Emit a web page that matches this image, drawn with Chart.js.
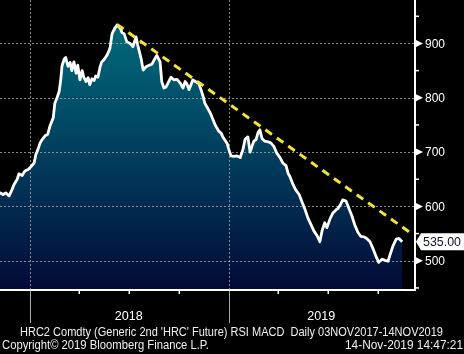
<!DOCTYPE html>
<html><head><meta charset="utf-8">
<script src="https://cdn.jsdelivr.net/npm/chart.js@4.4.0/dist/chart.umd.min.js"></script>
<style>html,body{margin:0;padding:0;background:#000;overflow:hidden}canvas{display:block}</style>
</head><body>
<canvas id="c" width="464" height="354"></canvas>
<script>
// ---- data ----
const startDate = '2017-11-03'; // day 0 of dayOffsets
const dayOffsets = [0,9,14,20,25,29,35,38,44,49,
55,60,66,69,73,77,80,86,91,95,
101,104,108,112,115,117,121,124,128,132,
135,139,143,146,150,154,157,161,165,168,
172,176,179,183,187,190,194,200,205,209,
214,218,224,227,231,236,242,247,253,256,
262,266,271,277,282,288,291,297,300,304,
308,311,317,322,328,334,339,343,346,350,
354,357,363,368,372,376,379,383,389,394,
398,401,405,409,412,416,420,423,427,433,
438,444,449,453,458,462,466,469,473,477,
480,484,489,495,500,506,511,517,522,528,
532,535,541,546,552,557,563,568,574,579,
585,590,594,599,603,609,614,620,623,627,
632,638,643,649,654,660,665,671,676,682,
688,693,698,704,709,715,719,724,730,735,
741];
const prices = [627,622,625,619,630,640,650,660,657,665,
668,673,680,695,705,717,722,730,733,748,
763,790,800,812,835,858,871,874,858,865,
850,866,845,860,833,850,838,830,837,824,
835,832,840,838,857,866,870,879,891,918,
928,934,928,920,918,903,900,894,912,897,
873,851,857,860,862,873,878,866,830,818,
820,826,838,833,834,827,818,830,826,815,
825,833,829,826,815,802,790,783,772,760,
750,745,738,735,728,722,716,705,693,692,
693,690,705,724,728,700,712,720,723,737,
741,725,720,719,717,710,698,690,680,675,
660,655,640,630,622,609,594,579,566,555,
546,535,555,570,561,578,588,594,596,602,
612,610,597,582,566,552,545,544,541,535,
521,508,497,503,501,499,512,527,540,541,
535];
const trendDays = [218, 754];
const trendValues = [935, 553];
const yTicks = [500, 600, 700, 800, 900];
const yMinorTicks = [450, 550, 650, 750, 850, 950];
const yearStartDays = [59, 424];      // 1 Jan 2018, 1 Jan 2019
const yearLabels = ['2018', '2019'];
const quarterDays = [149, 240, 332, 514, 605, 697];
const lastPrice = 535.00;
const footerLine1 = "HRC2 Comdty (Generic 2nd 'HRC' Future) RSI MACD  Daily 03NOV2017-14NOV2019";
const footerLeft = "Copyright\u00A9 2019 Bloomberg Finance L.P.";
const footerRight = "14-Nov-2019 14:47:21";

const FONT = '"Liberation Sans", Arial, sans-serif';

const pricePoints = dayOffsets.map((d, i) => ({x: d, y: prices[i]}));
const trendPoints = trendDays.map((d, i) => ({x: d, y: trendValues[i]}));

function fillGradient(ctx) {
  const ca = ctx.chart.chartArea;
  if (!ca) return '#013';
  const g = ctx.chart.ctx.createLinearGradient(0, ca.top, 0, ca.bottom);
  g.addColorStop(0, '#00727f');
  g.addColorStop(0.35, '#00506a');
  g.addColorStop(0.62, '#023558');
  g.addColorStop(1, '#020a36');
  return g;
}

const bbgPlugin = {
  id: 'bbg',
  beforeDatasetDraw(chart, args) {
    if (args.index !== 1) return;
    const {ctx, chartArea: ca, scales: {x, y}} = chart;
    ctx.save();
    ctx.strokeStyle = 'rgba(150,150,150,0.9)';
    ctx.lineWidth = 1;
    ctx.setLineDash([2, 2]);
    yTicks.forEach(v => {
      const py = Math.round(y.getPixelForValue(v)) + 0.5;
      ctx.beginPath(); ctx.moveTo(ca.left, py); ctx.lineTo(ca.right, py); ctx.stroke();
    });
    yearStartDays.forEach(d => {
      const px = Math.round(x.getPixelForValue(d)) + 0.5;
      ctx.beginPath(); ctx.moveTo(px, ca.top); ctx.lineTo(px, ca.bottom); ctx.stroke();
    });
    ctx.restore();
  },
  afterDraw(chart) {
    const {ctx, chartArea: ca, scales: {x, y}} = chart;
    ctx.save();
    ctx.setLineDash([]);
    ctx.fillStyle = '#fff';
    // axis lines
    ctx.fillRect(ca.right - 1, 0, 2, ca.bottom + 1);
    ctx.fillRect(0, ca.bottom, ca.right + 1, 2);
    // y minor ticks
    yMinorTicks.forEach(v => {
      const py = y.getPixelForValue(v);
      ctx.fillRect(ca.right + 1, py - 0.75, 3, 1.5);
    });
    // y major pointers + labels
    ctx.font = '13px ' + FONT;
    ctx.textBaseline = 'middle';
    ctx.textAlign = 'left';
    yTicks.forEach(v => {
      const py = y.getPixelForValue(v);
      ctx.beginPath();
      ctx.moveTo(ca.right + 1, py - 3.5);
      ctx.lineTo(ca.right + 8, py);
      ctx.lineTo(ca.right + 1, py + 3.5);
      ctx.closePath(); ctx.fill();
      ctx.fillText(String(v), ca.right + 10, py + 0.5, 20);
    });
    // x: year separators below axis
    ctx.strokeStyle = '#a8a8a8';
    ctx.lineWidth = 1;
    yearStartDays.forEach(d => {
      const px = Math.round(x.getPixelForValue(d)) + 0.5;
      ctx.beginPath(); ctx.moveTo(px, ca.bottom + 2); ctx.lineTo(px, ca.bottom + 34); ctx.stroke();
    });
    quarterDays.forEach(d => {
      const px = Math.round(x.getPixelForValue(d));
      ctx.fillRect(px - 0.5, ca.bottom + 2, 1.5, 3);
    });
    // year labels centred in visible year spans
    ctx.textAlign = 'center';
    ctx.font = '13px ' + FONT;
    yearLabels.forEach((lab, i) => {
      const a = yearStartDays[i];
      const b = i + 1 < yearStartDays.length ? yearStartDays[i + 1] : x.max;
      const px = x.getPixelForValue((a + b) / 2) - 1;
      ctx.fillText(lab, px, ca.bottom + 27, 28);
    });
    // price tag
    const py = y.getPixelForValue(lastPrice);
    ctx.beginPath();
    ctx.moveTo(ca.right + 1, py);
    ctx.lineTo(ca.right + 6, py - 8.5);
    ctx.lineTo(464, py - 8.5);
    ctx.lineTo(464, py + 8.5);
    ctx.lineTo(ca.right + 6, py + 8.5);
    ctx.closePath(); ctx.fill();
    ctx.fillStyle = '#0a1232';
    ctx.textAlign = 'left';
    ctx.font = '13px ' + FONT;
    ctx.fillText(lastPrice.toFixed(2), ca.right + 8, py + 0.5, 38);
    // footer
    ctx.fillStyle = '#f0f0f0';
    ctx.font = '12.5px ' + FONT;
    ctx.textAlign = 'left';
    ctx.fillText(footerLine1, 20, 333, 423);
    ctx.fillText(footerLeft, 2, 346, 207);
    ctx.textAlign = 'right';
    ctx.fillText(footerRight, 463, 346, 118);
    ctx.restore();
  }
};

new Chart(document.getElementById('c'), {
  type: 'line',
  data: {
    datasets: [
      { data: trendPoints, order: 0, borderColor: '#f2e436', borderWidth: 3,
        borderDash: [8, 6], pointRadius: 0, fill: false },
      { data: pricePoints, order: 1, borderColor: '#ffffff', borderWidth: 2.8,
        borderJoinStyle: 'round', pointRadius: 0, fill: false, tension: 0 },
      { data: pricePoints, order: 2, borderWidth: 0, borderColor: 'rgba(0,0,0,0)',
        pointRadius: 0, fill: 'start', backgroundColor: fillGradient, tension: 0 }
    ]
  },
  options: {
    responsive: false,
    animation: false,
    devicePixelRatio: 1,
    layout: { padding: { left: 0, right: 49, top: 0, bottom: 65 } },
    scales: {
      x: { type: 'linear', min: 3.4, max: 764.5, display: false },
      y: { min: 448, max: 980, display: false }
    },
    plugins: { legend: { display: false }, tooltip: { enabled: false } }
  },
  plugins: [bbgPlugin]
});
</script>
</body></html>
